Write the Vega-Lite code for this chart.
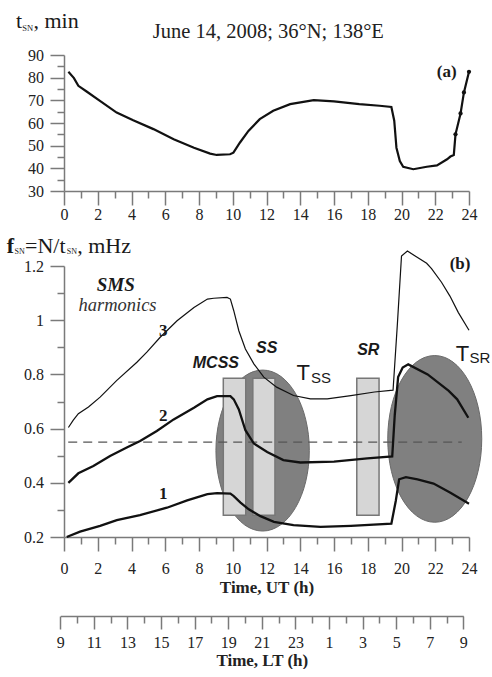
{
  "$schema": "https://vega.github.io/schema/vega-lite/v6.json",
  "background": "white",
  "padding": {"left": 6, "top": 10, "right": 0, "bottom": 0},
  "config": {
    "view": {"stroke": null},
    "axis": {
      "grid": false,
      "domainColor": "#7a7a7a",
      "domainWidth": 1.5,
      "tickColor": "#7a7a7a",
      "tickWidth": 1.5,
      "labelFont": "Liberation Serif",
      "labelFontSize": 16,
      "labelColor": "#222222",
      "titleFont": "Liberation Serif",
      "titleFontSize": 17,
      "titleColor": "#222222",
      "labelOverlap": false,
      "labelFlush": false,
      "labelBound": false
    },
    "text": {"font": "Liberation Serif", "color": "#1a1a1a"}
  },
  "datasets": {
    "tsn": [
      {"h": 0.26, "v": 82.6}, {"h": 0.59, "v": 79.8}, {"h": 0.85, "v": 76.4}, {"h": 1.34, "v": 73.9},
      {"h": 2.13, "v": 69.8}, {"h": 3.12, "v": 64.6}, {"h": 4.1, "v": 61.2}, {"h": 5.3, "v": 57.3},
      {"h": 6.5, "v": 52.8}, {"h": 7.7, "v": 49.1}, {"h": 8.66, "v": 46.5}, {"h": 9.05, "v": 45.9},
      {"h": 9.84, "v": 46.2}, {"h": 10.04, "v": 46.9}, {"h": 10.43, "v": 51.4}, {"h": 10.93, "v": 56.5},
      {"h": 11.6, "v": 61.7}, {"h": 12.4, "v": 65.4}, {"h": 13.4, "v": 68.3}, {"h": 14.8, "v": 70.1},
      {"h": 16.0, "v": 69.5}, {"h": 17.5, "v": 68.3}, {"h": 18.7, "v": 67.6}, {"h": 19.4, "v": 67.1},
      {"h": 19.57, "v": 61.0}, {"h": 19.7, "v": 49.1}, {"h": 19.9, "v": 43.2}, {"h": 20.1, "v": 40.7},
      {"h": 20.7, "v": 39.6}, {"h": 21.5, "v": 40.7}, {"h": 22.1, "v": 41.3}, {"h": 22.7, "v": 44.0},
      {"h": 22.9, "v": 45.2}, {"h": 23.1, "v": 45.9}, {"h": 23.2, "v": 55.0}, {"h": 23.5, "v": 64.2},
      {"h": 23.7, "v": 73.5}, {"h": 24.0, "v": 82.6}
    ],
    "tsnpts": [
      {"h": 23.2, "v": 55.0}, {"h": 23.5, "v": 64.2}, {"h": 23.7, "v": 73.5}, {"h": 24.0, "v": 82.6}
    ],
    "ttext": [
      {"h": -2.844, "v": 101.78, "t": "t", "k": "main"},
      {"h": -2.471, "v": 100.7, "t": "SN", "k": "sub"},
      {"h": -1.807, "v": 101.78, "t": ", min", "k": "main"},
      {"h": 22.68, "v": 82.5, "t": "(a)", "k": "tag"},
      {"h": 12.11, "v": 97.63, "t": "June 14, 2008; 36°N; 138°E", "k": "title"}
    ],
    "fsn": [
      {"n": 3, "h": 0.26, "v": 0.604}, {"n": 3, "h": 0.55, "v": 0.631}, {"n": 3, "h": 0.85, "v": 0.655},
      {"n": 3, "h": 1.45, "v": 0.68}, {"n": 3, "h": 2.14, "v": 0.716}, {"n": 3, "h": 3.13, "v": 0.778},
      {"n": 3, "h": 4.32, "v": 0.845}, {"n": 3, "h": 4.91, "v": 0.882}, {"n": 3, "h": 5.7, "v": 0.937},
      {"n": 3, "h": 6.7, "v": 0.998}, {"n": 3, "h": 7.7, "v": 1.047}, {"n": 3, "h": 8.5, "v": 1.078},
      {"n": 3, "h": 8.87, "v": 1.081}, {"n": 3, "h": 9.66, "v": 1.084}, {"n": 3, "h": 9.86, "v": 1.078},
      {"n": 3, "h": 10.06, "v": 1.035}, {"n": 3, "h": 10.36, "v": 0.961}, {"n": 3, "h": 10.75, "v": 0.894},
      {"n": 3, "h": 11.25, "v": 0.839}, {"n": 3, "h": 11.84, "v": 0.79}, {"n": 3, "h": 12.6, "v": 0.753},
      {"n": 3, "h": 13.6, "v": 0.722}, {"n": 3, "h": 14.6, "v": 0.71}, {"n": 3, "h": 15.6, "v": 0.71},
      {"n": 3, "h": 17.0, "v": 0.722}, {"n": 3, "h": 18.4, "v": 0.735}, {"n": 3, "h": 19.5, "v": 0.742},
      {"n": 3, "h": 19.75, "v": 0.98}, {"n": 3, "h": 20.0, "v": 1.237}, {"n": 3, "h": 20.35, "v": 1.255},
      {"n": 3, "h": 21.49, "v": 1.21}, {"n": 3, "h": 21.78, "v": 1.19}, {"n": 3, "h": 22.37, "v": 1.14},
      {"n": 3, "h": 22.87, "v": 1.089}, {"n": 3, "h": 23.37, "v": 1.028}, {"n": 3, "h": 24.0, "v": 0.963},
      {"n": 2, "h": 0.26, "v": 0.4}, {"n": 2, "h": 0.85, "v": 0.435}, {"n": 2, "h": 1.74, "v": 0.462},
      {"n": 2, "h": 2.73, "v": 0.499}, {"n": 2, "h": 3.72, "v": 0.53}, {"n": 2, "h": 4.51, "v": 0.554},
      {"n": 2, "h": 5.5, "v": 0.591}, {"n": 2, "h": 6.5, "v": 0.634}, {"n": 2, "h": 7.7, "v": 0.677},
      {"n": 2, "h": 8.5, "v": 0.708}, {"n": 2, "h": 9.07, "v": 0.72}, {"n": 2, "h": 9.86, "v": 0.72},
      {"n": 2, "h": 10.06, "v": 0.708}, {"n": 2, "h": 10.36, "v": 0.671}, {"n": 2, "h": 10.75, "v": 0.594},
      {"n": 2, "h": 11.25, "v": 0.545}, {"n": 2, "h": 12.04, "v": 0.514}, {"n": 2, "h": 13.0, "v": 0.484},
      {"n": 2, "h": 14.0, "v": 0.475}, {"n": 2, "h": 16.0, "v": 0.478}, {"n": 2, "h": 17.97, "v": 0.49},
      {"n": 2, "h": 19.45, "v": 0.497}, {"n": 2, "h": 19.6, "v": 0.65}, {"n": 2, "h": 19.8, "v": 0.79},
      {"n": 2, "h": 20.07, "v": 0.825}, {"n": 2, "h": 20.4, "v": 0.837}, {"n": 2, "h": 21.55, "v": 0.8},
      {"n": 2, "h": 22.8, "v": 0.739}, {"n": 2, "h": 23.3, "v": 0.708}, {"n": 2, "h": 23.96, "v": 0.64},
      {"n": 1, "h": 0.16, "v": 0.2}, {"n": 1, "h": 0.95, "v": 0.22}, {"n": 1, "h": 2.14, "v": 0.241},
      {"n": 1, "h": 3.13, "v": 0.262}, {"n": 1, "h": 4.5, "v": 0.281}, {"n": 1, "h": 6.1, "v": 0.308},
      {"n": 1, "h": 7.3, "v": 0.335}, {"n": 1, "h": 8.5, "v": 0.358}, {"n": 1, "h": 9.07, "v": 0.362},
      {"n": 1, "h": 9.86, "v": 0.36}, {"n": 1, "h": 10.06, "v": 0.351}, {"n": 1, "h": 10.46, "v": 0.327},
      {"n": 1, "h": 10.95, "v": 0.302}, {"n": 1, "h": 11.64, "v": 0.277}, {"n": 1, "h": 12.44, "v": 0.256},
      {"n": 1, "h": 13.6, "v": 0.244}, {"n": 1, "h": 15.2, "v": 0.237}, {"n": 1, "h": 17.0, "v": 0.241},
      {"n": 1, "h": 19.4, "v": 0.249}, {"n": 1, "h": 19.66, "v": 0.333}, {"n": 1, "h": 19.86, "v": 0.413},
      {"n": 1, "h": 20.26, "v": 0.421}, {"n": 1, "h": 20.95, "v": 0.413}, {"n": 1, "h": 21.9, "v": 0.397},
      {"n": 1, "h": 22.9, "v": 0.363}, {"n": 1, "h": 24.0, "v": 0.323}
    ],
    "rects": [
      {"x1": 9.44, "x2": 10.77, "y1": 0.28, "y2": 0.786},
      {"x1": 11.19, "x2": 12.5, "y1": 0.28, "y2": 0.786},
      {"x1": 17.35, "x2": 18.67, "y1": 0.28, "y2": 0.786}
    ],
    "btext": [
      {"h": -3.396, "v": 1.249, "t": "f", "k": "ylabb"},
      {"h": -2.933, "v": 1.244, "t": "SN", "k": "ysub"},
      {"h": -2.311, "v": 1.249, "t": "=N/t", "k": "ylab"},
      {"h": 0.16, "v": 1.244, "t": "SN", "k": "ysub"},
      {"h": 0.78, "v": 1.249, "t": ", mHz", "k": "ylab"},
      {"h": 3.07, "v": 1.129, "t": "SMS", "k": "sms"},
      {"h": 3.17, "v": 1.055, "t": "harmonics", "k": "harm"},
      {"h": 5.88, "v": 0.96, "t": "3", "k": "num"},
      {"h": 5.88, "v": 0.647, "t": "2", "k": "num"},
      {"h": 5.88, "v": 0.358, "t": "1", "k": "num"},
      {"h": 23.47, "v": 1.206, "t": "(b)", "k": "num"},
      {"h": 9.0, "v": 0.841, "t": "MCSS", "k": "ev"},
      {"h": 12.01, "v": 0.896, "t": "SS", "k": "ev"},
      {"h": 18.03, "v": 0.89, "t": "SR", "k": "ev"},
      {"h": 14.18, "v": 0.805, "t": "T", "k": "bigT"},
      {"h": 23.62, "v": 0.877, "t": "T", "k": "bigT"},
      {"h": 15.23, "v": 0.785, "t": "SS", "k": "tsub"},
      {"h": 24.64, "v": 0.859, "t": "SR", "k": "tsub"}
    ],
    "topaxis": [{"a": 0, "b": 30}, {"a": 24, "b": 90}],
    "botaxis": [{"a": 0, "b": 0.2}, {"a": 24, "b": 1.2}],
    "ltaxis": [{"lt": 9, "b": 0.2}, {"lt": 33, "b": 1.2}]
  },
  "spacing": 75,
  "bounds": "flush",
  "vconcat": [
    {
      "width": 405,
      "height": 136,
      "resolve": {"scale": {"x": "independent", "y": "independent"}, "axis": {"x": "independent", "y": "independent"}},
      "layer": [
        {
          "layer": [
            {
              "data": {"name": "tsn"},
              "mark": {"type": "line", "color": "#111111", "strokeWidth": 2.2},
              "encoding": {
                "x": {"field": "h", "type": "quantitative", "scale": {"domain": [0, 24], "nice": false, "zero": false}, "axis": null},
                "y": {"field": "v", "type": "quantitative", "scale": {"domain": [30, 90], "nice": false, "zero": false}, "axis": null}
              }
            },
            {
              "data": {"name": "tsnpts"},
              "mark": {"type": "point", "filled": true, "color": "#111111", "size": 18, "opacity": 1},
              "encoding": {
                "x": {"field": "h", "type": "quantitative", "axis": null},
                "y": {"field": "v", "type": "quantitative", "axis": null}
              }
            },
            {
              "data": {"name": "ttext"},
              "transform": [{"filter": "datum.k === 'main'"}],
              "mark": {"type": "text", "fontSize": 22, "align": "left", "baseline": "alphabetic"},
              "encoding": {
                "x": {"field": "h", "type": "quantitative", "axis": null},
                "y": {"field": "v", "type": "quantitative", "axis": null},
                "text": {"field": "t"}
              }
            },
            {
              "data": {"name": "ttext"},
              "transform": [{"filter": "datum.k === 'sub'"}],
              "mark": {"type": "text", "fontSize": 8.5, "align": "left", "baseline": "alphabetic"},
              "encoding": {
                "x": {"field": "h", "type": "quantitative", "axis": null},
                "y": {"field": "v", "type": "quantitative", "axis": null},
                "text": {"field": "t"}
              }
            },
            {
              "data": {"name": "ttext"},
              "transform": [{"filter": "datum.k === 'tag'"}],
              "mark": {"type": "text", "fontSize": 17, "fontWeight": "bold", "align": "center", "baseline": "middle"},
              "encoding": {
                "x": {"field": "h", "type": "quantitative", "axis": null},
                "y": {"field": "v", "type": "quantitative", "axis": null},
                "text": {"field": "t"}
              }
            },
            {
              "data": {"name": "ttext"},
              "transform": [{"filter": "datum.k === 'title'"}],
              "mark": {"type": "text", "fontSize": 20.5, "align": "center", "baseline": "alphabetic", "color": "#222222"},
              "encoding": {
                "x": {"field": "h", "type": "quantitative", "axis": null},
                "y": {"field": "v", "type": "quantitative", "axis": null},
                "text": {"field": "t"}
              }
            }
          ]
        },
        {
          "data": {"name": "topaxis"},
          "mark": {"type": "point", "opacity": 0},
          "encoding": {
            "x": {
              "field": "a", "type": "quantitative",
              "scale": {"domain": [0, 24], "nice": false, "zero": false},
              "axis": {"orient": "bottom", "title": null, "tickCount": 100, "values": [0,2,4,6,8,10,12,14,16,18,20,22,24], "labelExpr": "'' + datum.value", "tickSize": 14, "labelPadding": 1}
            },
            "y": {
              "field": "b", "type": "quantitative",
              "scale": {"domain": [30, 90], "nice": false, "zero": false},
              "axis": {"orient": "left", "title": null, "tickCount": 100, "values": [30,40,50,60,70,80,90], "labelExpr": "'' + datum.value", "tickSize": 14, "labelPadding": 6.5}
            }
          }
        },
        {
          "data": {"name": "topaxis"},
          "mark": {"type": "point", "opacity": 0},
          "encoding": {
            "x": {
              "field": "a", "type": "quantitative",
              "scale": {"domain": [0, 24], "nice": false, "zero": false},
              "axis": {"orient": "bottom", "title": null, "tickCount": 100, "values": [1,3,5,7,9,11,13,15,17,19,21,23], "labels": false, "domain": false, "tickSize": 7}
            },
            "y": {
              "field": "b", "type": "quantitative",
              "scale": {"domain": [30, 90], "nice": false, "zero": false},
              "axis": {"orient": "left", "title": null, "tickCount": 100, "values": [35,45,55,65,75,85], "labels": false, "domain": false, "tickSize": 7}
            }
          }
        }
      ]
    },
    {
      "width": 405,
      "height": 271,
      "resolve": {"scale": {"x": "independent", "y": "independent"}, "axis": {"x": "independent", "y": "independent"}},
      "layer": [
        {
          "layer": [
            {
              "data": {"values": [{"h": 11.77, "v": 0.519}]},
              "mark": {"type": "point", "shape": "M 0 -1 A 0.58 1 0 1 1 0 1 A 0.58 1 0 1 1 0 -1 Z", "size": 25921, "filled": true, "fill": "#808080", "stroke": "#6a6a6a", "strokeWidth": 1, "opacity": 1},
              "encoding": {
                "x": {"field": "h", "type": "quantitative", "scale": {"domain": [0, 24], "nice": false, "zero": false}, "axis": null},
                "y": {"field": "v", "type": "quantitative", "scale": {"domain": [0.2, 1.2], "nice": false, "zero": false}, "axis": null}
              }
            },
            {
              "data": {"values": [{"h": 21.97, "v": 0.562}]},
              "mark": {"type": "point", "shape": "M 0 -1 A 0.564 1 0 1 1 0 1 A 0.564 1 0 1 1 0 -1 Z", "size": 27789, "filled": true, "fill": "#808080", "stroke": "#6a6a6a", "strokeWidth": 1, "opacity": 1},
              "encoding": {
                "x": {"field": "h", "type": "quantitative", "axis": null},
                "y": {"field": "v", "type": "quantitative", "axis": null}
              }
            },
            {
              "data": {"name": "rects"},
              "mark": {"type": "rect", "fill": "#d6d6d6", "stroke": "#777777", "strokeWidth": 1.5},
              "encoding": {
                "x": {"field": "x1", "type": "quantitative", "axis": null},
                "x2": {"field": "x2"},
                "y": {"field": "y1", "type": "quantitative", "axis": null},
                "y2": {"field": "y2"}
              }
            },
            {
              "data": {"values": [{"h": 0.25, "v": 0.55}, {"h": 23.57, "v": 0.55}]},
              "mark": {"type": "line", "color": "#555555", "strokeWidth": 1.3, "strokeDash": [9, 6]},
              "encoding": {
                "x": {"field": "h", "type": "quantitative", "axis": null},
                "y": {"field": "v", "type": "quantitative", "axis": null}
              }
            },
            {
              "data": {"name": "fsn"},
              "transform": [{"filter": "datum.n < 3"}],
              "mark": {"type": "line", "color": "#111111", "strokeWidth": 2.3},
              "encoding": {
                "x": {"field": "h", "type": "quantitative", "axis": null},
                "y": {"field": "v", "type": "quantitative", "axis": null},
                "detail": {"field": "n"}
              }
            },
            {
              "data": {"name": "fsn"},
              "transform": [{"filter": "datum.n === 3"}],
              "mark": {"type": "line", "color": "#111111", "strokeWidth": 1.2},
              "encoding": {
                "x": {"field": "h", "type": "quantitative", "axis": null},
                "y": {"field": "v", "type": "quantitative", "axis": null}
              }
            },
            {
              "data": {"name": "btext"},
              "transform": [{"filter": "datum.k === 'ylab'"}],
              "mark": {"type": "text", "fontSize": 22, "align": "left", "baseline": "alphabetic"},
              "encoding": {"x": {"field": "h", "type": "quantitative", "axis": null}, "y": {"field": "v", "type": "quantitative", "axis": null}, "text": {"field": "t"}}
            },
            {
              "data": {"name": "btext"},
              "transform": [{"filter": "datum.k === 'ylabb'"}],
              "mark": {"type": "text", "fontSize": 22, "fontWeight": "bold", "align": "left", "baseline": "alphabetic"},
              "encoding": {"x": {"field": "h", "type": "quantitative", "axis": null}, "y": {"field": "v", "type": "quantitative", "axis": null}, "text": {"field": "t"}}
            },
            {
              "data": {"name": "btext"},
              "transform": [{"filter": "datum.k === 'ysub'"}],
              "mark": {"type": "text", "fontSize": 8, "align": "left", "baseline": "alphabetic"},
              "encoding": {"x": {"field": "h", "type": "quantitative", "axis": null}, "y": {"field": "v", "type": "quantitative", "axis": null}, "text": {"field": "t"}}
            },
            {
              "data": {"name": "btext"},
              "transform": [{"filter": "datum.k === 'sms'"}],
              "mark": {"type": "text", "fontSize": 19, "fontWeight": "bold", "fontStyle": "italic", "align": "center", "baseline": "middle"},
              "encoding": {"x": {"field": "h", "type": "quantitative", "axis": null}, "y": {"field": "v", "type": "quantitative", "axis": null}, "text": {"field": "t"}}
            },
            {
              "data": {"name": "btext"},
              "transform": [{"filter": "datum.k === 'harm'"}],
              "mark": {"type": "text", "fontSize": 18.5, "fontStyle": "italic", "align": "center", "baseline": "middle", "color": "#333333"},
              "encoding": {"x": {"field": "h", "type": "quantitative", "axis": null}, "y": {"field": "v", "type": "quantitative", "axis": null}, "text": {"field": "t"}}
            },
            {
              "data": {"name": "btext"},
              "transform": [{"filter": "datum.k === 'num'"}],
              "mark": {"type": "text", "fontSize": 17, "fontWeight": "bold", "align": "center", "baseline": "middle"},
              "encoding": {"x": {"field": "h", "type": "quantitative", "axis": null}, "y": {"field": "v", "type": "quantitative", "axis": null}, "text": {"field": "t"}}
            },
            {
              "data": {"name": "btext"},
              "transform": [{"filter": "datum.k === 'ev'"}],
              "mark": {"type": "text", "font": "Liberation Sans", "fontSize": 16, "fontWeight": "bold", "fontStyle": "italic", "align": "center", "baseline": "middle"},
              "encoding": {"x": {"field": "h", "type": "quantitative", "axis": null}, "y": {"field": "v", "type": "quantitative", "axis": null}, "text": {"field": "t"}}
            },
            {
              "data": {"name": "btext"},
              "transform": [{"filter": "datum.k === 'bigT'"}],
              "mark": {"type": "text", "font": "Liberation Sans", "fontSize": 22, "align": "center", "baseline": "middle"},
              "encoding": {"x": {"field": "h", "type": "quantitative", "axis": null}, "y": {"field": "v", "type": "quantitative", "axis": null}, "text": {"field": "t"}}
            },
            {
              "data": {"name": "btext"},
              "transform": [{"filter": "datum.k === 'tsub'"}],
              "mark": {"type": "text", "font": "Liberation Sans", "fontSize": 15, "align": "center", "baseline": "middle"},
              "encoding": {"x": {"field": "h", "type": "quantitative", "axis": null}, "y": {"field": "v", "type": "quantitative", "axis": null}, "text": {"field": "t"}}
            }
          ]
        },
        {
          "data": {"name": "botaxis"},
          "mark": {"type": "point", "opacity": 0},
          "encoding": {
            "x": {
              "field": "a", "type": "quantitative",
              "scale": {"domain": [0, 24], "nice": false, "zero": false},
              "axis": {"orient": "bottom", "title": "Time, UT (h)", "titleFontWeight": "bold", "titlePadding": 2.5, "tickCount": 100, "values": [0,2,4,6,8,10,12,14,16,18,20,22,24], "labelExpr": "'' + datum.value", "tickSize": 14, "labelPadding": 9.5}
            },
            "y": {
              "field": "b", "type": "quantitative",
              "scale": {"domain": [0.2, 1.2], "nice": false, "zero": false},
              "axis": {"orient": "left", "title": null, "tickCount": 100, "values": [0.2,0.4,0.6,0.8,1.0,1.2], "labelExpr": "format(datum.value, '~g')", "tickSize": 14, "labelPadding": 6.5}
            }
          }
        },
        {
          "data": {"name": "botaxis"},
          "mark": {"type": "point", "opacity": 0},
          "encoding": {
            "x": {
              "field": "a", "type": "quantitative",
              "scale": {"domain": [0, 24], "nice": false, "zero": false},
              "axis": {"orient": "bottom", "title": null, "tickCount": 100, "values": [1,3,5,7,9,11,13,15,17,19,21,23], "labels": false, "domain": false, "tickSize": 7}
            },
            "y": {
              "field": "b", "type": "quantitative",
              "scale": {"domain": [0.2, 1.2], "nice": false, "zero": false},
              "axis": {"orient": "left", "title": null, "tickCount": 100, "values": [0.3,0.5,0.7,0.9,1.1], "labels": false, "domain": false, "tickSize": 7}
            }
          }
        },
        {
          "data": {"name": "ltaxis"},
          "mark": {"type": "point", "opacity": 0},
          "encoding": {
            "x": {
              "field": "lt", "type": "quantitative",
              "scale": {"domain": [9, 33], "range": [-3.7, 399.3], "nice": false, "zero": false},
              "axis": {"orient": "bottom", "offset": 79, "title": "Time, LT (h)", "titleFontWeight": "bold", "titlePadding": 2.5, "tickCount": 100, "values": [9,11,13,15,17,19,21,23,25,27,29,31,33], "labelExpr": "'' + (datum.value % 24)", "tickSize": 13, "labelPadding": 5}
            },
            "y": {"field": "b", "type": "quantitative", "scale": {"domain": [0.2, 1.2], "nice": false, "zero": false}, "axis": null}
          }
        },
        {
          "data": {"name": "ltaxis"},
          "mark": {"type": "point", "opacity": 0},
          "encoding": {
            "x": {
              "field": "lt", "type": "quantitative",
              "scale": {"domain": [9, 33], "range": [-3.7, 399.3], "nice": false, "zero": false},
              "axis": {"orient": "bottom", "offset": 79, "title": null, "tickCount": 100, "values": [10,12,14,16,18,20,22,24,26,28,30,32], "labels": false, "domain": false, "tickSize": 7}
            },
            "y": {"field": "b", "type": "quantitative", "scale": {"domain": [0.2, 1.2], "nice": false, "zero": false}, "axis": null}
          }
        }
      ]
    }
  ]
}
